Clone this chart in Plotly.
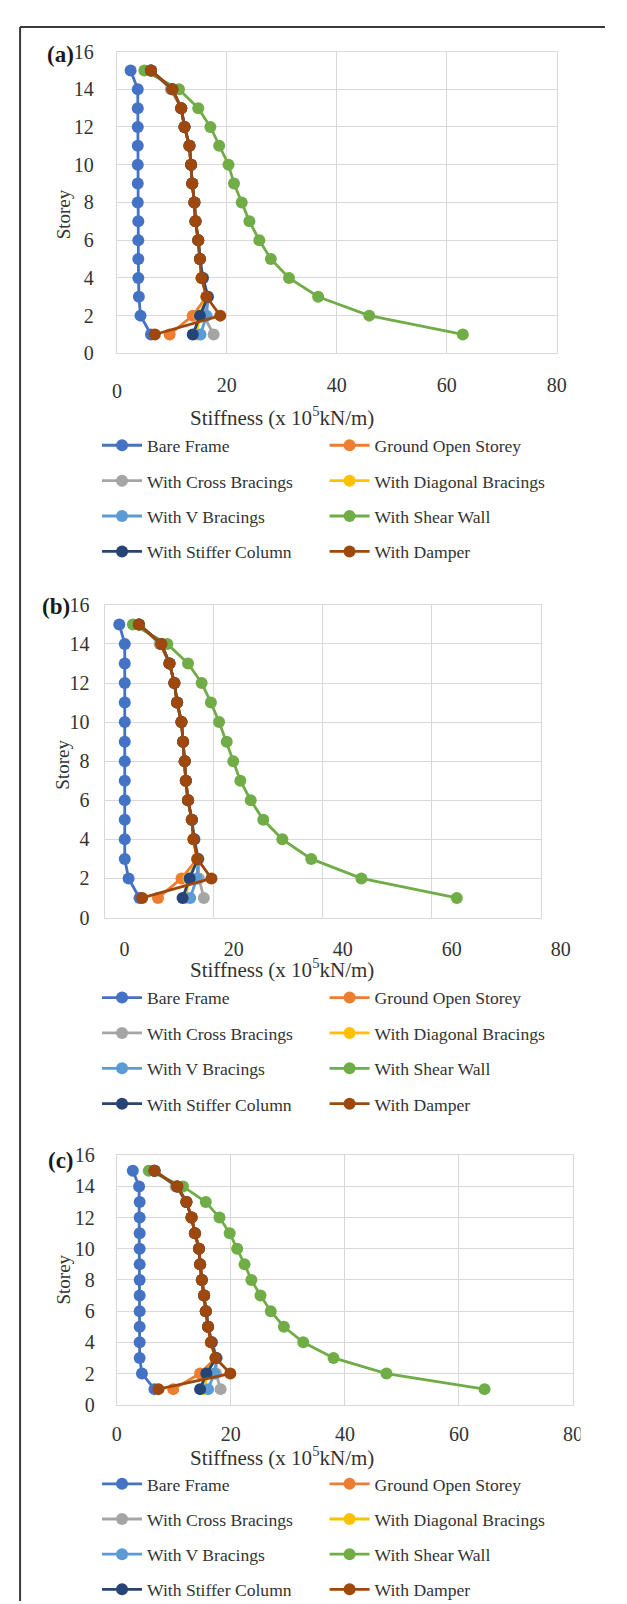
import plotly.graph_objects as go

W, H = 627, 1604

storeys = list(range(1, 16))  # storey 1 .. 15
x_ticks = [0, 20, 40, 60, 80]
y_ticks = [0, 2, 4, 6, 8, 10, 12, 14, 16]

series_names = ["Bare Frame", "Ground Open Storey", "With Cross Bracings",
                "With Diagonal Bracings", "With V Bracings", "With Shear Wall",
                "With Stiffer Column", "With Damper"]
series_colors = ["#4472C4", "#ED7D31", "#A5A5A5", "#FFC000",
                 "#5B9BD5", "#70AD47", "#264478", "#9E480E"]

# ---- panel (a) values, storey 1 .. 15 ----
bare_a   = [6.2, 4.3, 4.0, 3.9, 3.9, 3.9, 3.9, 3.8, 3.8, 3.8, 3.8, 3.8, 3.8, 3.8, 2.5]
ground_a = [9.6, 13.8, 16.3, 15.4, 15.1, 14.8, 14.3, 14.1, 13.7, 13.5, 13.2, 12.3, 11.7, 10.1, 6.2]
cross_a  = [17.6, 15.8, 16.3, 15.4, 15.1, 14.8, 14.3, 14.1, 13.7, 13.5, 13.2, 12.3, 11.7, 9.8, 6.2]
diag_a   = [14.5, 15.0, 16.3, 15.4, 15.1, 14.8, 14.3, 14.1, 13.7, 13.5, 13.2, 12.3, 11.7, 10.1, 6.2]
vbr_a    = [15.2, 16.3, 16.6, 15.7, 15.1, 14.8, 14.3, 14.1, 13.7, 13.5, 13.2, 12.3, 11.7, 10.1, 6.2]
shear_a  = [62.9, 45.9, 36.6, 31.3, 28.0, 25.9, 24.1, 22.7, 21.3, 20.3, 18.6, 17.0, 14.8, 11.3, 5.0]
stiff_a  = [13.8, 15.1, 16.5, 15.6, 15.1, 14.8, 14.3, 14.1, 13.7, 13.5, 13.2, 12.3, 11.7, 10.1, 6.2]
damper_a = [6.9, 18.8, 16.3, 15.4, 15.1, 14.8, 14.3, 14.1, 13.7, 13.5, 13.2, 12.3, 11.7, 10.1, 6.2]

# ---- panel (b) ----
bare_b   = [6.4, 4.4, 3.7, 3.7, 3.7, 3.7, 3.7, 3.7, 3.7, 3.7, 3.7, 3.7, 3.7, 3.7, 2.7]
ground_b = [9.8, 14.1, 17.0, 16.3, 16.0, 15.3, 14.9, 14.7, 14.4, 14.1, 13.3, 12.8, 11.9, 10.4, 6.3]
cross_b  = [18.2, 17.3, 17.2, 16.3, 16.0, 15.3, 14.9, 14.7, 14.4, 14.1, 13.3, 12.8, 11.9, 10.1, 6.3]
diag_b   = [14.9, 15.4, 17.0, 16.3, 16.0, 15.3, 14.9, 14.7, 14.4, 14.1, 13.3, 12.8, 11.9, 10.4, 6.3]
vbr_b    = [15.7, 16.9, 17.2, 16.5, 16.0, 15.3, 14.9, 14.7, 14.4, 14.1, 13.3, 12.8, 11.9, 10.4, 6.3]
shear_b  = [64.6, 47.1, 37.9, 32.6, 29.1, 26.8, 24.9, 23.6, 22.4, 21.0, 19.5, 17.8, 15.3, 11.5, 5.2]
stiff_b  = [14.3, 15.6, 17.1, 16.4, 16.0, 15.3, 14.9, 14.7, 14.4, 14.1, 13.3, 12.8, 11.9, 10.4, 6.3]
damper_b = [6.9, 19.6, 17.0, 16.3, 16.0, 15.3, 14.9, 14.7, 14.4, 14.1, 13.3, 12.8, 11.9, 10.4, 6.3]

# ---- panel (c) ----
bare_c   = [6.6, 4.4, 4.0, 4.0, 4.0, 4.0, 4.0, 4.0, 4.0, 4.0, 4.0, 4.0, 4.0, 3.9, 2.8]
ground_c = [9.9, 14.6, 17.3, 16.5, 16.0, 15.6, 15.3, 14.9, 14.6, 14.4, 13.7, 13.1, 12.2, 10.6, 6.6]
cross_c  = [18.2, 17.4, 17.5, 16.5, 16.0, 15.6, 15.3, 14.9, 14.6, 14.4, 13.7, 13.1, 12.2, 10.3, 6.6]
diag_c   = [15.2, 15.9, 17.3, 16.5, 16.0, 15.6, 15.3, 14.9, 14.6, 14.4, 13.7, 13.1, 12.2, 10.6, 6.6]
vbr_c    = [16.0, 17.1, 17.5, 16.7, 16.0, 15.6, 15.3, 14.9, 14.6, 14.4, 13.7, 13.1, 12.2, 10.6, 6.6]
shear_c  = [64.5, 47.3, 38.0, 32.7, 29.3, 27.0, 25.2, 23.6, 22.4, 21.1, 19.8, 18.0, 15.6, 11.6, 5.6]
stiff_c  = [14.6, 15.7, 17.4, 16.6, 16.0, 15.6, 15.3, 14.9, 14.6, 14.4, 13.7, 13.1, 12.2, 10.6, 6.6]
damper_c = [7.3, 19.9, 17.3, 16.5, 16.0, 15.6, 15.3, 14.9, 14.6, 14.4, 13.7, 13.1, 12.2, 10.6, 6.6]

panel_labels = ["(a)", "(b)", "(c)"]
panel_data = [
    [bare_a, ground_a, cross_a, diag_a, vbr_a, shear_a, stiff_a, damper_a],
    [bare_b, ground_b, cross_b, diag_b, vbr_b, shear_b, stiff_b, damper_b],
    [bare_c, ground_c, cross_c, diag_c, vbr_c, shear_c, stiff_c, damper_c],
]

# ---- layout geometry (pixels) ----
def fx(p):
    return p / W

def fy(p):
    return 1 - p / H

plot_boxes = [  # left, right, top, bottom
    (110, 576, 33, 339),
    (97, 559, 594, 911),
    (110, 593, 1152, 1405),
]
ytick_standoff = [18, 10, 17]
xtick_standoff = [13, 13, 11]
xtick_shift = [0, 20, 0]
label_right = [67, 63, 67]
label_y = [36, 596, 1157]
storey_pos = [(53, 198), (53, 756), (53, 1278)]
xtitle_y = [403, 963, 1457]
legend_top = [414, 974, 1467]
legend_gap = [9.5, 9.5, 9.3]

SERIF = "Liberation Serif"
TXT = "#333333"
GRID = "#d9d9d9"

fig = go.Figure()

for p in range(3):
    xa = "x" if p == 0 else f"x{p+1}"
    ya = "y" if p == 0 else f"y{p+1}"
    for i, name in enumerate(series_names):
        col = i % 2
        leg_idx = p * 2 + col
        leg = "legend" if leg_idx == 0 else f"legend{leg_idx+1}"
        fig.add_trace(go.Scatter(
            x=panel_data[p][i], y=storeys, name=name,
            mode="lines+markers",
            line=dict(color=series_colors[i], width=2.8),
            marker=dict(color=series_colors[i], size=12, line=dict(width=0)),
            xaxis=xa, yaxis=ya, legend=leg,
            legendgroup=f"p{p}_{i}",
        ))

layout = dict(
    width=W, height=H, margin=dict(l=0, r=0, t=0, b=0),
    paper_bgcolor="white", plot_bgcolor="white",
    showlegend=True,
    font=dict(family=SERIF, color=TXT),
    annotations=[], shapes=[],
)

for p in range(3):
    l, r, t, b = plot_boxes[p]
    xkey = "xaxis" if p == 0 else f"xaxis{p+1}"
    ykey = "yaxis" if p == 0 else f"yaxis{p+1}"
    yanchor = "y" if p == 0 else f"y{p+1}"
    xanchor = "x" if p == 0 else f"x{p+1}"
    xtext = [str(v) for v in x_ticks]
    if p == 0:
        xtext[0] = ""  # the "0" of panel (a) sits lower, drawn as annotation
    layout[xkey] = dict(
        domain=[fx(l), fx(r)], anchor=yanchor, range=[0, 80],
        tickmode="array", tickvals=x_ticks, ticktext=xtext,
        showgrid=True, gridcolor=GRID, gridwidth=1.3,
        zeroline=False, showline=True, linecolor=GRID, linewidth=1.3, mirror=True,
        ticks="", tickfont=dict(family=SERIF, size=20, color=TXT),
        ticklabelstandoff=xtick_standoff[p], ticklabelshift=xtick_shift[p],
        fixedrange=True,
    )
    layout[ykey] = dict(
        domain=[fy(b), fy(t)], anchor=xanchor, range=[0, 16],
        tickmode="array", tickvals=y_ticks,
        showgrid=True, gridcolor=GRID, gridwidth=1.3,
        zeroline=False, showline=True, linecolor=GRID, linewidth=1.3, mirror=True,
        ticks="", tickfont=dict(family=SERIF, size=20, color=TXT),
        ticklabelstandoff=ytick_standoff[p],
        fixedrange=True,
    )
    # legends: two columns
    for col in range(2):
        leg_idx = p * 2 + col
        lkey = "legend" if leg_idx == 0 else f"legend{leg_idx+1}"
        layout[lkey] = dict(
            x=fx(89 if col == 0 else 330), y=fy(legend_top[p]),
            xanchor="left", yanchor="top", orientation="v",
            bgcolor="rgba(0,0,0,0)", borderwidth=0, itemwidth=40,
            font=dict(family=SERIF, size=17.6, color=TXT),
            tracegroupgap=legend_gap[p], itemclick=False, itemdoubleclick=False,
        )
    # panel label
    layout["annotations"].append(dict(
        text=f"<b>{panel_labels[p]}</b>", x=fx(label_right[p]), y=fy(label_y[p]),
        xref="paper", yref="paper",
        xanchor="right", yanchor="middle", showarrow=False,
        font=dict(family=SERIF, size=23, color="#1a1a1a")))
    sx, sy = storey_pos[p]
    layout["annotations"].append(dict(
        text="Storey", x=fx(sx), y=fy(sy), xref="paper", yref="paper",
        xanchor="center", yanchor="middle", showarrow=False, textangle=-90,
        font=dict(family=SERIF, size=19, color=TXT)))
    layout["annotations"].append(dict(
        text="Stiffness (x 10<sup>5</sup>kN/m)", x=fx(285), y=fy(xtitle_y[p]),
        xref="paper", yref="paper", xanchor="center", yanchor="middle",
        showarrow=False, font=dict(family=SERIF, size=21, color=TXT)))

# lower "0" tick label of panel (a)
layout["annotations"].append(dict(
    text="0", x=0, xref="x", y=fy(377), yref="paper",
    xanchor="center", yanchor="middle", showarrow=False,
    font=dict(family=SERIF, size=20, color=TXT)))

# outer frame (left and top edges)
layout["shapes"].append(dict(type="line", xref="paper", yref="paper",
                             x0=fx(7.5), x1=fx(7.5), y0=fy(8), y1=0,
                             line=dict(color="#3a3a3a", width=2)))
layout["shapes"].append(dict(type="line", xref="paper", yref="paper",
                             x0=fx(7.5), x1=1, y0=fy(8), y1=fy(8),
                             line=dict(color="#3a3a3a", width=2)))
# clipped right edge of panel (c)'s last tick label
layout["shapes"].append(dict(type="rect", xref="paper", yref="paper",
                             x0=fx(601), x1=1, y0=fy(1444), y1=fy(1416),
                             fillcolor="white", line=dict(width=0), layer="above"))

fig.update_layout(**layout)
fig.write_html("out.html")
